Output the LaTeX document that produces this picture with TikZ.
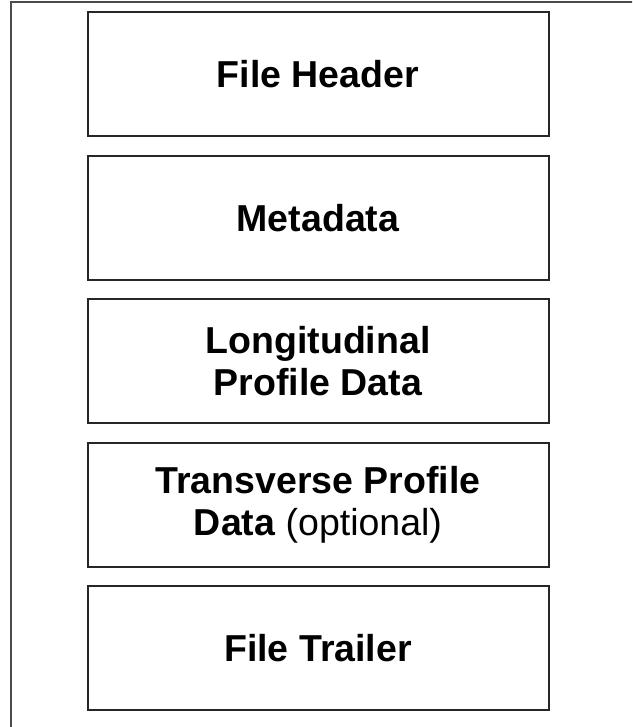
\documentclass[tikz,border=0pt]{standalone}
\usepackage{fontspec}
\setmainfont{Liberation Sans}
\begin{document}
\begin{tikzpicture}[x=1pt,y=-1pt,
	layer/.style={draw=black!85, line width=2pt, minimum width=461pt, minimum height=124pt, inner sep=0pt, align=center, font=\fontsize{37.5}{42.5}\selectfont\bfseries}]
		\def\midx{318};
		\def\pitch{143.6};
		\clip (0,0) rectangle (632,727);
		\draw[line width=2pt, draw=black!70] (10.7,2.5) rectangle (660,760);
		\node[layer] (header) at (\midx,74) {File Header};
		\node[layer] (meta) at (\midx,74+\pitch) {Metadata};
		\node[layer] (longit) at (\midx,74+2*\pitch) {Longitudinal\\Profile Data};
		\node[layer] (transv) at (\midx,74+3*\pitch) {Transverse Profile\\Data \mdseries(optional)};
		\node[layer] (trailer) at (\midx,74+4*\pitch) {File Trailer};
		\end{tikzpicture}
\end{document}
